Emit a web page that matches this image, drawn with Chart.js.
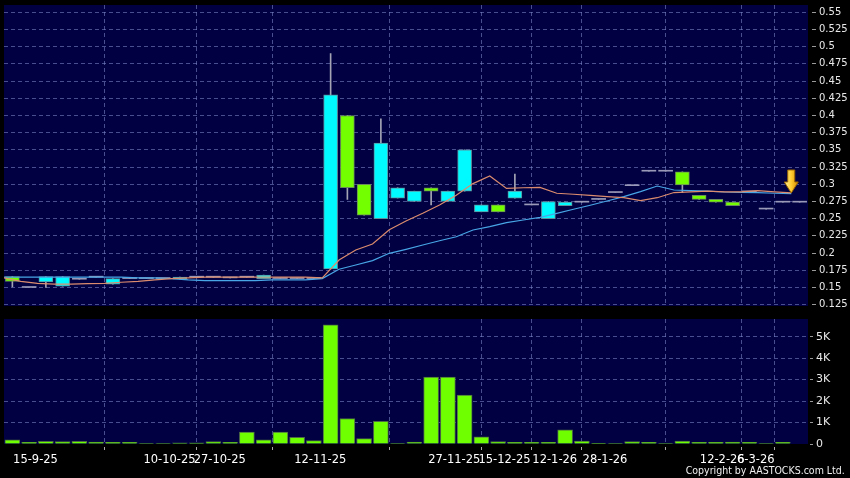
<!DOCTYPE html>
<html><head><meta charset="utf-8">
<script src="https://cdn.jsdelivr.net/npm/chart.js@4.4.1/dist/chart.umd.min.js"></script>
<style>
html,body{margin:0;padding:0;background:#000;width:850px;height:478px;overflow:hidden}
#c1{position:absolute;left:0;top:0}
#c2{position:absolute;left:0;top:319px}
#copy{position:absolute;right:5px;top:464px;color:#f0f0f0;font-family:"DejaVu Sans";font-size:10.5px;line-height:12px;transform:scaleX(0.9);transform-origin:right center;white-space:nowrap}
</style></head><body>
<canvas id="c1" width="850" height="316"></canvas>
<canvas id="c2" width="850" height="159"></canvas>
<div id="copy">Copyright by AASTOCKS.com Ltd.</div>
<script>
// ---- data (one entry per trading day, oldest first) ----
const opens  = [0.166,0.150,0.158,0.152,0.162,0.165,0.155,0.163,0.163,0.163,0.162,0.165,0.165,0.164,0.165,0.163,0.163,0.163,0.163,0.177,0.400,0.300,0.250,0.280,0.275,0.295,0.275,0.290,0.260,0.270,0.280,0.270,0.250,0.269,0.274,0.278,0.288,0.298,0.319,0.319,0.318,0.284,0.278,0.274,0.289,0.264,0.274,0.274];
const highs  = [0.166,0.150,0.166,0.166,0.162,0.165,0.163,0.163,0.163,0.163,0.165,0.165,0.165,0.164,0.165,0.168,0.163,0.163,0.163,0.490,0.400,0.300,0.395,0.295,0.290,0.295,0.290,0.350,0.270,0.270,0.315,0.270,0.275,0.274,0.274,0.278,0.288,0.298,0.319,0.319,0.318,0.284,0.278,0.274,0.289,0.264,0.274,0.274];
const lows   = [0.151,0.150,0.150,0.152,0.162,0.165,0.155,0.163,0.163,0.163,0.162,0.165,0.165,0.164,0.165,0.163,0.163,0.163,0.163,0.177,0.278,0.255,0.250,0.280,0.275,0.270,0.275,0.290,0.260,0.260,0.280,0.270,0.250,0.269,0.274,0.278,0.288,0.298,0.319,0.319,0.288,0.278,0.274,0.269,0.289,0.264,0.274,0.274];
const closes = [0.159,0.150,0.166,0.166,0.162,0.165,0.163,0.163,0.163,0.163,0.165,0.165,0.165,0.164,0.165,0.168,0.163,0.163,0.163,0.430,0.295,0.255,0.360,0.295,0.290,0.290,0.290,0.350,0.270,0.260,0.290,0.270,0.275,0.274,0.274,0.278,0.288,0.298,0.319,0.319,0.299,0.278,0.274,0.269,0.289,0.264,0.274,0.274];
const volumes = [190,80,130,110,130,90,80,80,20,20,50,50,110,80,550,190,550,310,160,5550,1190,250,1060,20,90,3120,3120,2280,330,110,80,80,80,660,140,30,20,110,80,20,140,80,80,90,80,20,80,0];
const maShort = [0.164,0.159,0.156,0.155,0.155,0.1555,0.156,0.1576,0.159,0.161,0.163,0.164,0.165,0.165,0.165,0.165,0.165,0.165,0.165,0.164,0.190,0.2045,0.2132,0.234,0.2467,0.2578,0.270,0.284,0.301,0.312,0.294,0.295,0.2956,0.287,0.2855,0.284,0.282,0.2805,0.2762,0.2805,0.288,0.289,0.290,0.289,0.289,0.2907,0.289,0.2874];
const maLong  = [0.165,0.165,0.165,0.165,0.165,0.165,0.165,0.165,0.164,0.164,0.163,0.161,0.160,0.160,0.160,0.160,0.161,0.161,0.161,0.163,0.1765,0.1827,0.189,0.1997,0.2055,0.2118,0.218,0.2238,0.2336,0.2384,0.2442,0.2481,0.252,0.2578,0.2637,0.2695,0.2757,0.282,0.2893,0.2975,0.2917,0.2907,0.290,0.2888,0.2883,0.2878,0.287,0.2865];
const tickSlots = [2,10,13,19,27,30,33,36,43,45];
const tickDates = ['15-9-25','10-10-25','27-10-25','12-11-25','27-11-25','15-12-25','12-1-26','28-1-26','12-2-26','6-3-26'];
const priceTicks = [0.125,0.15,0.175,0.2,0.225,0.25,0.275,0.3,0.325,0.35,0.375,0.4,0.425,0.45,0.475,0.5,0.525,0.55];
const volumeTicks = [0,1000,2000,3000,4000,5000];

// ---- styling ----
Chart.defaults.font.family = '"DejaVu Sans"';
Chart.defaults.animation = false;
const N = closes.length;
const NAVY = '#000042';
const GRID = 'rgba(120,130,195,0.6)';
const CYAN = '#00faff', GREEN = '#74ff00', FLAT = '#9a9ab8';

const bgPlugin = { id:'bg', beforeDraw(chart){ const {ctx, chartArea:a} = chart; ctx.save(); ctx.fillStyle = NAVY; ctx.fillRect(a.left, a.top, a.right-a.left, a.bottom-a.top); ctx.restore(); } };

const arrowPlugin = { id:'arrow', afterDatasetsDraw(chart){
  const xs = chart.scales.x, ys = chart.scales.y, ctx = chart.ctx;
  const i = N - 1;
  const px = xs.getPixelForValue(i), py = ys.getPixelForValue(maShort[i]);
  ctx.save();
  const g = ctx.createLinearGradient(px-7, 0, px+7, 0);
  g.addColorStop(0, '#fff3a0'); g.addColorStop(0.5, '#ffcc30'); g.addColorStop(1, '#d08a00');
  ctx.fillStyle = g; ctx.strokeStyle = '#9a6400'; ctx.lineWidth = 1;
  ctx.beginPath();
  ctx.moveTo(px, py);
  ctx.lineTo(px-7, py-11); ctx.lineTo(px-3.5, py-11); ctx.lineTo(px-3.5, py-23);
  ctx.lineTo(px+3.5, py-23); ctx.lineTo(px+3.5, py-11); ctx.lineTo(px+7, py-11);
  ctx.closePath(); ctx.fill(); ctx.stroke();
  ctx.restore();
}};

const xGridScale = (extra) => Object.assign({
  type:'linear', min:0, max:N, offset:false,
  afterBuildTicks: s => { s.ticks = tickSlots.map(v => ({value:v})); },
  border:{display:false, dash:[4,3]}
}, extra);

// ---- price chart ----
new Chart(document.getElementById('c1'), {
  type:'bar',
  data:{ datasets:[
    { type:'line', data: maShort.map((v,i)=>({x:i, y:v})), borderColor:'#dc8c6e', borderWidth:1.2, pointRadius:0, tension:0, order:0 },
    { type:'line', data: maLong.map((v,i)=>({x:i, y:v})), borderColor:'#48a6e6', borderWidth:1.2, pointRadius:0, tension:0, order:1 },
    { data: opens.map((o,i)=>({x:i+0.5, y:[Math.min(o,closes[i]), Math.max(o,closes[i])]})),
      barThickness:14, grouped:false, minBarLength:1, borderSkipped:false, order:2,
      backgroundColor: c => { const i=c.dataIndex; return closes[i]>opens[i]?CYAN:(closes[i]<opens[i]?GREEN:FLAT); },
      borderColor: c => { const i=c.dataIndex; return closes[i]>opens[i]?'#5f8f9c':'#6a8c58'; },
      borderWidth: c => { const i=c.dataIndex; return closes[i]===opens[i]?0:1; } },
    { data: highs.map((h,i)=>({x:i+0.5, y:[lows[i], h]})), barThickness:1, grouped:false, borderWidth:0, backgroundColor:'#a4a4b4', order:3 }
  ]},
  options:{
    responsive:false, animation:false,
    layout:{ padding:{ left:4, top:5, right:0, bottom:10 } },
    plugins:{ legend:{display:false}, tooltip:{enabled:false} },
    scales:{
      x: xGridScale({ ticks:{display:false}, grid:{color:GRID, drawTicks:false},
        afterFit: s => { s.height = 0; s.paddingLeft = 0; s.paddingRight = 0; } }),
      y: { type:'linear', position:'right', min:0.1231, max:0.5606,
        afterBuildTicks: s => { s.ticks = priceTicks.map(v => ({value:v})); },
        afterFit: s => { s.width = 42; s.paddingTop = 0; s.paddingBottom = 0; },
        ticks:{ color:'#e8e8e8', font:{size:10}, padding:2, callback: v => String(v) },
        grid:{ color:GRID, tickLength:9, tickColor:'#9a9a9a', tickBorderDash:[0,4,4,40] },
        border:{ display:false, dash:[4,3] } }
    }
  },
  plugins:[bgPlugin, arrowPlugin]
});

// ---- volume chart ----
new Chart(document.getElementById('c2'), {
  type:'bar',
  data:{ datasets:[
    { data: volumes.map((v,i)=>({x:i+0.5, y:v})), barThickness:15, grouped:false,
      backgroundColor:'#70ff00', borderColor:'#4d6a45', borderWidth:1 }
  ]},
  options:{
    responsive:false, animation:false,
    layout:{ padding:{ left:4, top:0, right:0, bottom:0 } },
    plugins:{ legend:{display:false}, tooltip:{enabled:false} },
    scales:{
      x: xGridScale({
        ticks:{ color:'#ffffff', font:{size:11.5}, padding:3, labelOffset:-2, autoSkip:false, maxRotation:0,
          callback: (v, idx) => tickDates[idx] },
        grid:{ color:GRID, tickLength:6, tickColor:'#aaaaaa', tickBorderDash:[0,3,3,40] },
        afterFit: s => { s.height = 34; s.paddingLeft = 0; s.paddingRight = 0; } }),
      y: { type:'linear', position:'right', min:0, max:5825,
        afterBuildTicks: s => { s.ticks = volumeTicks.map(v => ({value:v})); },
        afterFit: s => { s.width = 42; s.paddingTop = 0; s.paddingBottom = 0; },
        ticks:{ color:'#e8e8e8', font:{size:11}, padding:2, callback: v => v===0 ? '0' : (v/1000)+'K' },
        grid:{ color: c => (c.tick && c.tick.value===0) ? 'rgba(0,0,0,0)' : GRID, tickLength:6, tickColor:'#9a9a9a', tickBorderDash:[0,2,3,40] },
        border:{ display:false, dash:[4,3] } }
    }
  },
  plugins:[bgPlugin]
});
</script>
</body></html>
